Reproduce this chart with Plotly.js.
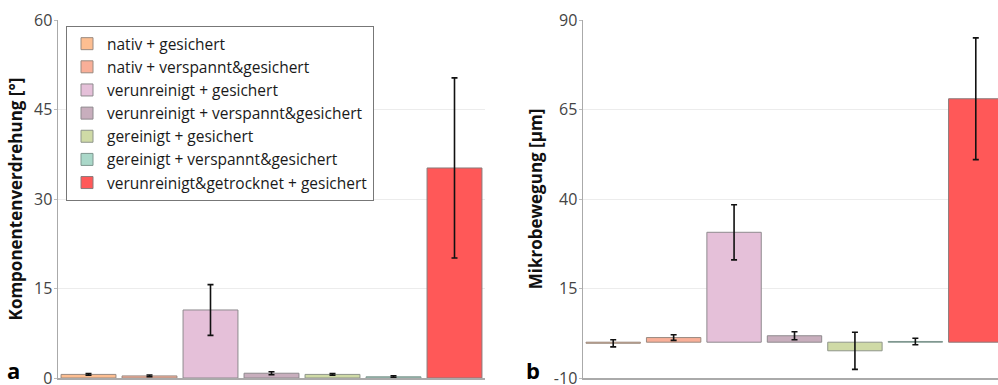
<!DOCTYPE html>
<html>
<head>
<meta charset="utf-8">
<script src="https://cdn.plot.ly/plotly-3.0.1.min.js"></script>
<style>
html,body{margin:0;padding:0;overflow:hidden;background:#fff;}
#chart{width:1008px;height:385px;}
</style>
</head>
<body>
<div id="chart"></div>
<script>
const categories = [
  "nativ + gesichert",
  "nativ + verspannt&gesichert",
  "verunreinigt + gesichert",
  "verunreinigt + verspannt&gesichert",
  "gereinigt + gesichert",
  "gereinigt + verspannt&gesichert",
  "verunreinigt&getrocknet + gesichert"
];
const colors = ["#FDBE91", "#F9AF98", "#E5C0D9", "#C8AEBD", "#CFDAA6", "#AAD8C9", "#FF5858"];
const outlines = ["#9a8a80", "#9a8a80", "#8e8a8e", "#8e8a8e", "#8e958a", "#7f968f", "#8a7a7a"];

// panel a: Komponentenverdrehung [°]
const rotationMean = [0.6, 0.35, 11.4, 0.8, 0.6, 0.2, 35.2];
const rotationErr  = [0.15, 0.15, 4.25, 0.25, 0.15, 0.15, 15.1];

// panel b: Mikrobewegung [µm]
const motionMean = [-0.3, 1.3, 30.7, 1.8, -2.4, 0.2, 68.0];
const motionErr  = [1.0, 0.8, 7.7, 1.1, 5.2, 0.9, 17.0];

const yTicksA = [0, 15, 30, 45, 60];
const yTicksB = [-10, 15, 40, 65, 90];

const traces = [];
categories.forEach((c, i) => {
  traces.push({
    type: "bar", name: c, x: [i], y: [rotationMean[i]],
    xaxis: "x", yaxis: "y", legendgroup: c,
    marker: {color: colors[i], line: {color: outlines[i], width: 1}},
    error_y: {type: "data", array: [rotationErr[i]], visible: true, color: "#111", thickness: 1.6, width: 3},
    hoverinfo: "skip"
  });
});
categories.forEach((c, i) => {
  traces.push({
    type: "bar", name: c, x: [i], y: [motionMean[i]],
    xaxis: "x2", yaxis: "y2", legendgroup: c, showlegend: false,
    marker: {color: colors[i], line: {color: outlines[i], width: 1}},
    error_y: {type: "data", array: [motionErr[i]], visible: true, color: "#111", thickness: 1.6, width: 3},
    hoverinfo: "skip"
  });
});

const W = 1008;
const tickFont = {family: "Open Sans, sans-serif", size: 16, color: "#444"};
const titleFont = {family: "Open Sans, sans-serif", size: 17, color: "#111", weight: "bold"};

const layout = {
  width: W, height: 385,
  margin: {l: 0, r: 0, t: 20, b: 7},
  paper_bgcolor: "#fff", plot_bgcolor: "#fff",
  barmode: "overlay", bargap: 0.1,
  showlegend: true,
  font: {family: "Open Sans, sans-serif"},
  legend: {
    x: 66 / W, y: 0.983, xanchor: "left", yanchor: "top",
    bgcolor: "#fff", bordercolor: "#777", borderwidth: 1,
    font: {family: "Open Sans, sans-serif", size: 15.5, color: "#1a1a1a"},
    tracegroupgap: 0
  },
  xaxis: {
    domain: [58 / W, 485 / W], range: [-0.5, 6.5],
    showticklabels: false, ticks: "", showgrid: false, zeroline: false,
    showline: true, linecolor: "#aaa", linewidth: 1.5
  },
  yaxis: {
    domain: [0, 1], range: [0, 60], tickvals: yTicksA, ticktext: yTicksA.map(String),
    tickfont: tickFont, ticks: "outside", ticklen: 3, tickcolor: "#bbb",
    ticklabelstandoff: -2, ticklabeloverflow: "allow",
    showgrid: true, gridcolor: "#ececec", gridwidth: 1, zeroline: false,
    showline: true, linecolor: "#aaa", linewidth: 1.5,
    title: {text: "Komponentenverdrehung [°]", font: titleFont, standoff: 7}
  },
  xaxis2: {
    domain: [583 / W, 1006 / W], range: [-0.5, 6.5], anchor: "y2",
    showticklabels: false, ticks: "", showgrid: false, zeroline: false,
    showline: true, linecolor: "#aaa", linewidth: 1.5
  },
  yaxis2: {
    domain: [0, 1], range: [-10, 90], anchor: "x2", tickvals: yTicksB, ticktext: yTicksB.map(String),
    tickfont: tickFont, ticks: "outside", ticklen: 3, tickcolor: "#bbb",
    ticklabelstandoff: -2, ticklabeloverflow: "allow",
    showgrid: true, gridcolor: "#ececec", gridwidth: 1, zeroline: false,
    showline: true, linecolor: "#aaa", linewidth: 1.5,
    title: {text: "Mikrobewegung [µm]", font: titleFont, standoff: 7}
  },
  annotations: [
    {text: "<b>a</b>", xref: "paper", yref: "paper", x: 5 / W, y: -0.025, xanchor: "left", yanchor: "bottom",
     showarrow: false, font: {family: "Open Sans, sans-serif", size: 22, color: "#000"}},
    {text: "<b>b</b>", xref: "paper", yref: "paper", x: 524 / W, y: -0.025, xanchor: "left", yanchor: "bottom",
     showarrow: false, font: {family: "Open Sans, sans-serif", size: 22, color: "#000"}}
  ]
};

Plotly.newPlot("chart", traces, layout, {displayModeBar: false, staticPlot: true});
</script>
</body>
</html>
